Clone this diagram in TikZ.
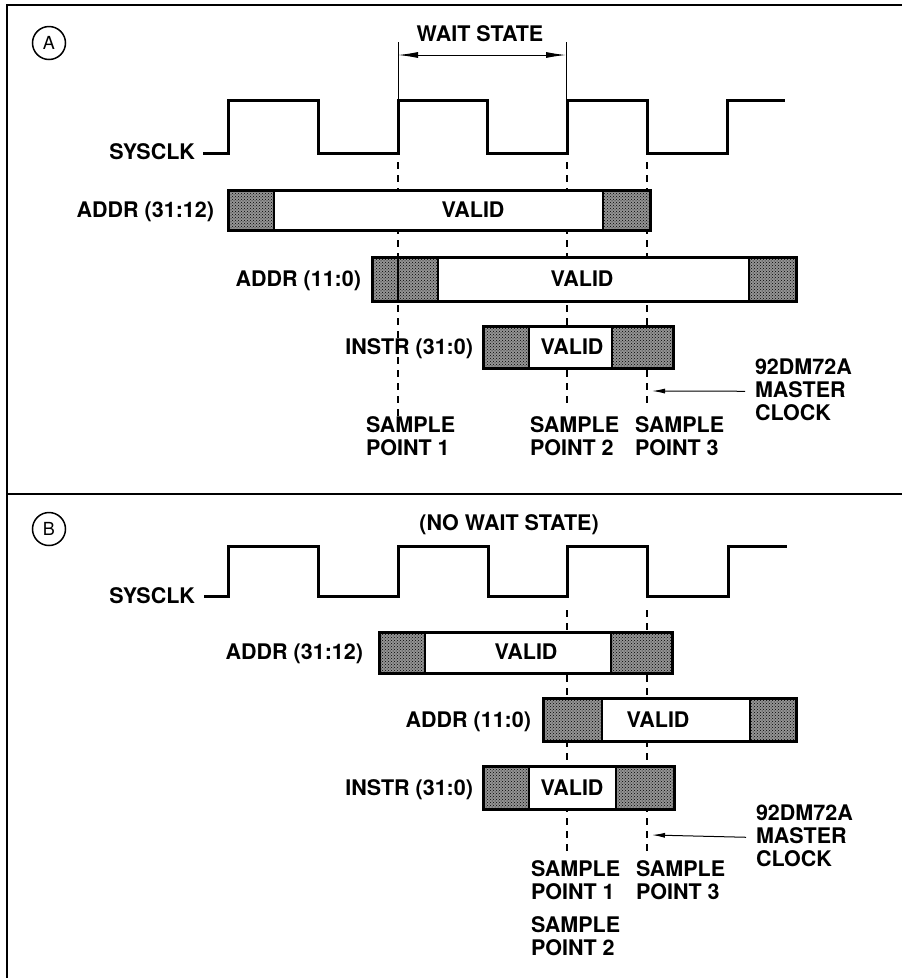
\documentclass[tikz,border=0pt]{standalone}
\usepackage{fontspec}
\setmainfont{TeX Gyre Heros}
\usetikzlibrary{arrows.meta,patterns}
\begin{document}
\begin{tikzpicture}[x=1pt,y=-1pt,
  lbl/.style={font=\bfseries\fontsize{21.5}{23}\selectfont, inner sep=0pt, outer sep=0pt},
  mlbl/.style={lbl, align=left, anchor=north west},
  clk/.style={line width=3pt, line join=miter},
  frame/.style={line width=2.2pt},
  guide/.style={line width=2.4pt, dash pattern=on 7pt off 6pt},
  thinln/.style={line width=1pt},
  hatchbase/.style={fill=black!42},
  hatchdots/.style={pattern=crosshatch dots, pattern color=black},
  busline/.style={line width=3pt},
  divider/.style={line width=1.4pt},
  tag/.style={circle, draw, line width=1.5pt, minimum size=33pt, inner sep=0pt, font=\fontsize{18}{18}\selectfont}]
\useasboundingbox (0,0) rectangle (902,978);

% bus bar: x1,y1,x2,y2,left hatch end,right hatch start
\newcommand\mybusbar[6]{%
  \fill[white] (#1,#2) rectangle (#3,#4);
  \fill[hatchbase] (#1,#2) rectangle (#5,#4);
  \fill[hatchbase] (#6,#2) rectangle (#3,#4);
  \fill[hatchdots] (#1,#2) rectangle (#5,#4);
  \fill[hatchdots] (#6,#2) rectangle (#3,#4);
  \draw[divider] (#5,#2) -- (#5,#4);
  \draw[divider] (#6,#2) -- (#6,#4);
  \draw[busline] (#1,#2) rectangle (#3,#4);}

% frame
\draw[frame] (6,5) -- (902,5);
\draw[line width=2.5pt] (7,4) -- (7,978);
\draw[line width=1.5pt] (7,494) -- (902,494);

% ================= panel A =================
\node[tag] (tagA) at (49,43) {A};

% wait state markers
\coordinate (wsL1) at (398,42);
\coordinate (wsL2) at (398,100);
\coordinate (wsR1) at (566,42);
\coordinate (wsR2) at (566,100);
\draw[thinln] (wsL1) -- (wsL2);
\draw[thinln] (wsR1) -- (wsR2);
\coordinate (wsA) at (398,55);
\coordinate (wsB) at (566,55);
\draw[thinln, {Latex[length=20pt,width=6pt]}-{Latex[length=20pt,width=6pt]}] (wsA) -- (wsB);
\node[lbl, anchor=base] (wsT) at (480,41.4) {WAIT STATE};

% clock
\node[lbl, anchor=base east] (clkA) at (195,159.4) {SYSCLK};
\draw[clk] (203,153) -- (228,153) -- (228,100) -- (318,100) -- (318,153) -- (398,153)
  -- (398,100) -- (487,100) -- (487,153) -- (567,153) -- (567,100) -- (647,100)
  -- (647,153) -- (727,153) -- (727,100) -- (785,100);

% sample point guides
\coordinate (a1t) at (398,162); \coordinate (a1b) at (398,417);
\coordinate (a2t) at (567,162); \coordinate (a2b) at (567,407);
\coordinate (a3t) at (647,162); \coordinate (a3b) at (647,407);
\draw[guide] (a1t) -- (a1b);
\draw[guide] (a2t) -- (a2b);
\draw[guide] (a3t) -- (a3b);

% buses
\mybusbar{228}{190}{650}{230}{274}{603}
\node[lbl, anchor=base east] (adhA) at (214,217.6) {ADDR (31:12)};
\node[lbl, anchor=base] (vA1) at (473,217.6) {VALID};

\mybusbar{372}{257}{796}{301}{438}{749}
\draw[divider] (398,257) -- (398,301);
\node[lbl, anchor=base east] (adlA) at (361,286.6) {ADDR (11:0)};
\node[lbl, anchor=base] (vA2) at (582,286.6) {VALID};

\mybusbar{483}{326}{673}{368}{529}{612}
\node[lbl, anchor=base east] (insA) at (473,354.6) {INSTR (31:0)};
\node[lbl, anchor=base] (vA3) at (572,354.6) {VALID};

% labels
\node[mlbl] (sA1) at (366,416.3) {SAMPLE\\POINT 1};
\node[mlbl] (sA2) at (530,416.3) {SAMPLE\\POINT 2};
\node[mlbl] (sA3) at (635,416.3) {SAMPLE\\POINT 3};
\node[mlbl] (mcA) at (755,359.3) {92DM72A\\MASTER\\CLOCK};
\coordinate (mcAtip) at (652,391);
\draw[thinln, -{Latex[length=13pt,width=5pt]}] ([xshift=-10pt,yshift=-1pt]mcA.west) -- (mcAtip);

% ================= panel B =================
\node[tag] (tagB) at (49,529) {B};
\node[lbl, anchor=base] (nwsT) at (509,530.6) {(NO WAIT STATE)};

\node[lbl, anchor=base east] (clkB) at (195,603) {SYSCLK};
\draw[clk] (204,596) -- (228,596) -- (228,546) -- (318,546) -- (318,596) -- (398,596)
  -- (398,546) -- (488,546) -- (488,596) -- (567,596) -- (567,546) -- (647,546)
  -- (647,596) -- (728,596) -- (728,546) -- (787,546);

\coordinate (b1t) at (567,610); \coordinate (b1b) at (567,853);
\coordinate (b3t) at (647,610); \coordinate (b3b) at (647,853);
\draw[guide] (b1t) -- (b1b);
\draw[guide] (b3t) -- (b3b);

\mybusbar{379}{632}{672}{673}{425}{611}
\node[lbl, anchor=base east] (adhB) at (363,659.6) {ADDR (31:12)};
\node[lbl, anchor=base] (vB1) at (526,659.6) {VALID};

\mybusbar{543}{698}{796}{741}{602}{750}
\node[lbl, anchor=base east] (adlB) at (531,727.6) {ADDR (11:0)};
\node[lbl, anchor=base] (vB2) at (658,727.6) {VALID};

\mybusbar{483}{766}{674}{809}{529}{616}
\node[lbl, anchor=base east] (insB) at (473,795.6) {INSTR (31:0)};
\node[lbl, anchor=base] (vB3) at (572,795.6) {VALID};

\node[mlbl] (sB1) at (531,860.3) {SAMPLE\\POINT 1};
\node[mlbl] (sB3) at (636,860.3) {SAMPLE\\POINT 3};
\node[mlbl] (sB2) at (531,916.3) {SAMPLE\\POINT 2};
\node[mlbl] (mcB) at (756,805.3) {92DM72A\\MASTER\\CLOCK};
\coordinate (mcBtip) at (652,835);
\draw[thinln, -{Latex[length=13pt,width=5pt]}] ([xshift=-10pt,yshift=-1pt]mcB.west) -- (mcBtip);
\end{tikzpicture}
\end{document}
